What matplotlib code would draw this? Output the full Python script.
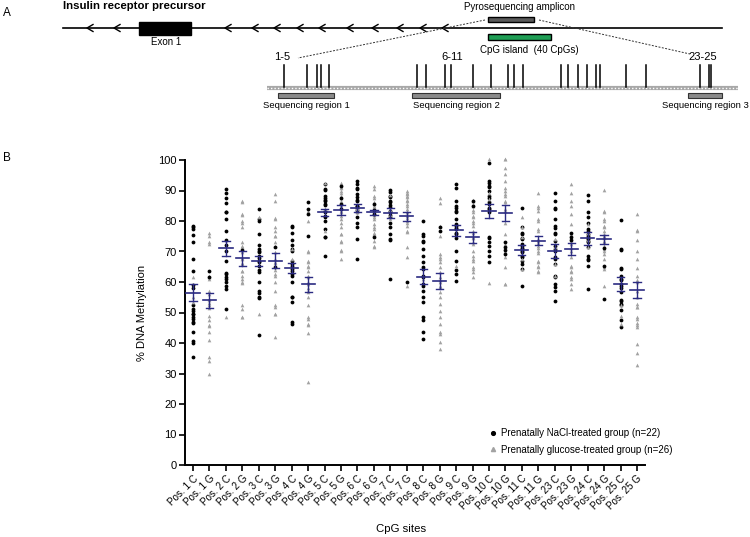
import numpy as np
import matplotlib
matplotlib.use("Agg")
import matplotlib.pyplot as plt
from matplotlib.patches import Rectangle
from matplotlib.lines import Line2D

plt.rcParams["font.family"] = ["Liberation Sans", "DejaVu Sans"]

# ---- panel B data ----
sites = ["Pos. 1 C", "Pos. 1 G", "Pos. 2 C", "Pos. 2 G", "Pos. 3 C", "Pos. 3 G",
         "Pos. 4 C", "Pos. 4 G", "Pos. 5 C", "Pos. 5 G", "Pos. 6 C", "Pos. 6 G",
         "Pos. 7 C", "Pos. 7 G", "Pos. 8 C", "Pos. 8 G", "Pos. 9 C", "Pos. 9 G",
         "Pos. 10 C", "Pos. 10 G", "Pos. 11 C", "Pos. 11 G", "Pos. 23 C", "Pos. 23 G",
         "Pos. 24 C", "Pos. 24 G", "Pos. 25 C", "Pos. 25 G"]

# individual animals per site (C columns: NaCl n=22, G columns: glucose n=26)
pos1_c = [78.5, 78.0, 77.5, 75.5, 73.0, 67.5, 63.5, 59.0, 52.5, 51.0, 50.5, 49.5, 49.5,
          48.5, 48.0, 47.0, 46.5, 43.5, 40.5, 40.0, 35.5, 58.0]
pos1_g = [76, 75, 73, 72.5, 62, 61.5, 61.5, 61, 57, 56, 55, 54.5, 54, 53.5, 53, 52.5,
          51.5, 49, 47.5, 46, 45.5, 43.5, 41, 35.5, 34, 30]
pos2_c = [90.4, 89.3, 87.7, 86.0, 82.8, 82.8, 80.6, 76.8, 73.7, 70.3, 67, 63.7, 62.8,
          62.6, 61.7, 61.5, 61, 59.9, 58.8, 57.7, 51.2, 72]
pos2_g = [86.6, 86.3, 82.2, 81.9, 80.1, 79.5, 77.9, 73, 71.9, 71.6, 69.7, 67.9, 67.5,
          66.1, 65.9, 63.7, 63.5, 61, 59.9, 59.6, 52.3, 51.2, 48.5, 48.5, 48.5, 62]
pos3_c = [83.9, 80.6, 80.1, 75.9, 70.8, 70.5, 69.7, 67.9, 67, 66.4, 65.4, 63.9, 63.2,
          59.9, 57.2, 56.4, 55.2, 54.7, 42.5, 68.5, 72, 70]
pos3_g = [89, 86.6, 81.2, 80.9, 80.6, 77.9, 76.8, 75.2, 75, 73, 71.9, 69.7, 67.5, 66.4,
          66.1, 62.6, 62.1, 57.2, 52.6, 51.7, 49.6, 49.6, 49.6, 41.9, 64, 60]
pos4_c = [78.4, 77.9, 76.2, 73.7, 72.1, 71.4, 70.8, 70.3, 67, 65.4, 64.8, 64.3, 63.7,
          62.6, 62.1, 59.9, 55.2, 55, 53.4, 46.8, 46.3, 66]
pos4_g = [83.3, 80.1, 70.8, 70.3, 69.7, 67.5, 67, 66.4, 65.4, 64.8, 63.5, 61.5, 59.4,
          57.2, 56.6, 55, 52.6, 48.5, 48, 46.3, 45.8, 43.2, 27.2, 60, 62, 58]
pos5_c = [92, 90.4, 90.1, 88.2, 87.7, 86.8, 86.4, 86.1, 85.5, 85.2, 83.3, 82.8, 82.2,
          81.7, 81.4, 77.3, 75.2, 74.8, 74.6, 68.6, 84, 80]
pos5_g = [92.6, 92.3, 92, 91.2, 90.7, 89.9, 89.3, 88.2, 87.7, 86.6, 85, 81.7, 79.5, 78.1,
          76.8, 75.9, 75.7, 73.5, 73, 70.5, 70.1, 67.5, 83.3, 82.8, 84, 80.5]
pos6_c = [93.1, 92, 91.5, 90.7, 90.4, 88.8, 87.9, 87.7, 86.8, 86.6, 85.5, 85, 84.4, 83.9,
          83.6, 83.1, 81.2, 79.5, 77.9, 74.1, 67.5, 84.8]
pos6_g = [91.5, 90.4, 88.2, 87.7, 86.1, 85.5, 85, 84.6, 84.4, 84.2, 83.9, 83.6, 83.3, 83,
          82.8, 82, 81.2, 80.6, 79, 77.9, 77.3, 76.2, 75.7, 73.5, 71.9, 71.6]
pos7_c = [90.1, 89.6, 88.2, 87.9, 86.6, 86.1, 85.5, 85.3, 83.6, 83.3, 83, 82.2, 81.9,
          81.2, 79.2, 77.9, 75.9, 74.8, 74.1, 73.7, 61, 84.5]
pos7_g = [89.9, 89.3, 89, 88.6, 88.2, 87.9, 86.8, 86.4, 85.5, 85, 83.6, 83.1, 82.8, 82,
          81.7, 80.6, 80.1, 78.4, 76.8, 76.5, 71.4, 68.1, 58.8, 84, 81, 79.5]
pos8_c = [80.1, 75.7, 75.2, 73.5, 73, 70.8, 68.6, 66.4, 64.3, 62.1, 61.8, 59.9, 59.4,
          58.8, 57.2, 55.2, 53.4, 48.5, 47.6, 43.6, 41.4, 65]
pos8_g = [87.7, 86, 78.4, 75.2, 69.2, 68.1, 67.5, 66.4, 64.8, 63.2, 61.5, 61, 60.5, 59.9,
          58.8, 58.3, 56.6, 55, 52.8, 50.6, 48.5, 46.3, 43.6, 43, 40.3, 38]
pos9_c = [92, 90.7, 86.6, 85, 84.4, 83.3, 82.8, 79, 78.4, 78.1, 77.7, 77.3, 76.8, 76.2,
          75.7, 70.3, 67, 64, 62.6, 60.3, 80.5, 74.5]
pos9_g = [86.8, 86.4, 85.5, 85, 83.6, 82.8, 81.7, 81.2, 80.1, 79.5, 78.4, 76.8, 76.2,
          74.8, 74.4, 73, 72.4, 70.3, 68.6, 67.5, 67, 65.4, 64.8, 64.3, 63.2, 61.5]
pos10_c = [99.1, 93.1, 92.6, 91.5, 91.2, 89.9, 88.2, 87.7, 86.6, 86.1, 85.5, 85, 84.4,
           83.9, 82.8, 74.6, 74.4, 73, 71.9, 70.3, 68.6, 66.4]
pos10_g = [100.2, 100.2, 100.2, 97.5, 95.3, 93.1, 90.9, 89.9, 89.3, 88.8, 88.2, 87.1,
           86.6, 86.1, 83.9, 83.3, 79.5, 75.7, 72.4, 71.9, 70.3, 68.1, 64.8, 59.6, 59.4, 59.2]
pos11_c = [84.4, 77.9, 76.2, 75.7, 74.4, 74.1, 73, 72.4, 71.9, 71.4, 71.1, 70.8, 70.3,
           69.7, 69.2, 68.6, 68.1, 67, 65.9, 64.3, 58.8, 70.5]
pos11_g = [89.3, 85, 84.4, 83.3, 81.2, 80.6, 80.1, 76.8, 74.6, 74.1, 73.5, 72.7, 71.9,
           71.1, 70.3, 67.5, 67, 66.4, 65.4, 64.8, 64.3, 63.7, 63.2, 78, 77.3, 69.5]
pos23_c = [89.3, 86.6, 84.2, 83.9, 80.6, 78.4, 77.7, 76.2, 75.7, 73.5, 71.9, 70.8, 68.1,
           67.5, 65.9, 62.1, 61.5, 59.4, 58.3, 57.2, 53.9, 70]
pos23_g = [92, 89.3, 86.6, 85, 82.2, 79, 75.9, 74.6, 74.1, 73.7, 73, 71.4, 71.1, 70.3,
           68.1, 65.9, 65.4, 64.8, 63.7, 63.2, 62.1, 61.8, 61, 59.4, 57.7, 72.4]
pos24_c = [88.6, 86.6, 82.8, 81.2, 79.5, 77.3, 76.8, 76.2, 75.2, 74.6, 74.1, 73.7, 73,
           71.4, 68.6, 67.5, 67.2, 65.4, 57.7, 75.7, 74.4, 73.5]
pos24_g = [90.1, 83.3, 82.8, 80.6, 80.1, 79, 78.4, 77.9, 76.8, 76.2, 75.2, 74.6, 73.7,
           73.5, 71.9, 71.4, 70.3, 69.2, 67.5, 64.8, 64.3, 58.8, 74.4, 73, 70.8, 75.7]
pos25_c = [80.3, 71.1, 70.8, 70.5, 65.4, 64.6, 64.3, 61, 60.5, 59.4, 58.8, 58.1, 56.6,
           54.5, 54.1, 53.9, 52.8, 52.3, 50.9, 47.4, 45.2, 62]
pos25_g = [82.2, 77, 76.8, 73.7, 70.3, 67.5, 62.1, 60.5, 59.9, 57.2, 55, 52.8, 52.3, 51.8,
           51.8, 48.9, 48.5, 47.8, 46.5, 46.3, 45.8, 45.3, 39.8, 36.6, 32.9, 64.5]

columns = [pos1_c, pos1_g, pos2_c, pos2_g, pos3_c, pos3_g, pos4_c, pos4_g,
           pos5_c, pos5_g, pos6_c, pos6_g, pos7_c, pos7_g, pos8_c, pos8_g,
           pos9_c, pos9_g, pos10_c, pos10_g, pos11_c, pos11_g, pos23_c, pos23_g,
           pos24_c, pos24_g, pos25_c, pos25_g]

# mean and SEM as drawn in the figure
means = [56.5, 54.0, 71.0, 67.8, 67.0, 67.0, 64.5, 59.2, 82.8, 83.5, 84.2, 82.8,
         82.6, 81.5, 61.8, 60.4, 77.0, 74.6, 83.3, 82.5, 70.5, 73.6, 70.3, 70.7,
         74.3, 74.0, 59.3, 57.4]
sems = [2.8, 2.5, 2.6, 2.5, 1.6, 2.4, 1.6, 2.5, 1.1, 1.6, 1.4, 0.8, 1.5, 1.5,
        2.5, 2.6, 1.8, 1.85, 2.2, 2.6, 1.6, 1.6, 2.3, 2.0, 2.2, 1.5, 2.2, 2.5]

# ---- panel A schematic (layout units = pixels of the figure) ----
chevron_x = [90, 117, 228, 255, 277, 300, 322, 350, 375, 400, 423, 445]
cpg_ticks = [284, 307, 317, 321, 329, 417, 426, 445, 451, 473, 491, 508, 514, 523,
             561, 568, 578, 587, 596, 600, 626, 646, 700, 709, 711]
seq_regions = [(278, 334, "Sequencing region 1"), (412, 500, "Sequencing region 2"),
               (688, 722, "Sequencing region 3")]

fig = plt.figure(figsize=(7.5, 5.37), dpi=100)
ax_a = fig.add_axes([0, 0, 1, 1])
ax_a.set_xlim(0, 750)
ax_a.set_ylim(537, 0)
ax_a.axis("off")

ax_a.text(3, 13, "A", fontsize=8.5, va="center", ha="left")
ax_a.text(63, 6, "Insulin receptor precursor", fontsize=8.2, fontweight="bold",
          va="center", ha="left")
ax_a.plot([63, 722], [28, 28], color="black", lw=1.2)
for cx in chevron_x:
    ax_a.plot([cx + 3, cx - 3, cx + 3], [24.5, 28, 31.5], color="black", lw=1)
ax_a.add_patch(Rectangle((139, 22), 52, 13, facecolor="black", edgecolor="black"))
ax_a.text(166, 42, "Exon 1", fontsize=7, ha="center", va="center")

ax_a.add_patch(Rectangle((488, 17), 46, 5, facecolor="#5a5a5a", edgecolor="black", lw=1))
ax_a.text(520, 7, "Pyrosequencing amplicon", fontsize=7, ha="center", va="center")
ax_a.add_patch(Rectangle((488, 34), 63, 6, facecolor="#1f9e55", edgecolor="black", lw=1))
ax_a.text(529, 50, "CpG island  (40 CpGs)", fontsize=7, ha="center", va="center")

ax_a.plot([485, 298], [20, 58], color="#333333", lw=0.7, ls=(0, (2, 1.5)))
ax_a.plot([539, 690], [20, 54], color="#333333", lw=0.7, ls=(0, (2, 1.5)))

ax_a.plot([267, 738], [88, 88], color="#a8a8a8", lw=3, solid_capstyle="butt")
ax_a.plot([267, 738], [88, 88], color="white", lw=1, ls=(0, (1, 1.5)))
for tx in cpg_ticks:
    ax_a.plot([tx, tx], [65, 87], color="black", lw=1.1)
ax_a.text(282, 62, "1-5", fontsize=8, ha="center", va="bottom")
ax_a.text(452, 62, "6-11", fontsize=8, ha="center", va="bottom")
ax_a.text(703, 62, "23-25", fontsize=8, ha="center", va="bottom")
for x0, x1, lab in seq_regions:
    ax_a.add_patch(Rectangle((x0, 93), x1 - x0, 5, facecolor="#8a8a8a",
                             edgecolor="#333333", lw=0.8))
    ax_a.text((x0 + x1) / 2, 105, lab, fontsize=6.8, ha="center", va="center")

ax_a.text(3, 158, "B", fontsize=8.5, va="center", ha="left")

# ---- panel B ----
ax = fig.add_axes([185 / 750, 1 - 465 / 537, 460 / 750, 305 / 537])
ax.set_xlim(-0.49, 27.49)
ax.set_ylim(0, 100)

px_x = 460 / 27.98
px_y = 305 / 100.0
step = 4.2 / px_x


def swarm(vals, center):
    vals = np.asarray(vals, dtype=float)
    xs = np.full(len(vals), center)
    placed = []
    for i in np.argsort(vals):
        for k in [0, 1, -1, 2, -2, 3, -3]:
            x = center + k * step
            ok = True
            for (qx, qy) in placed:
                d = np.hypot((x - qx) * px_x, (vals[i] - qy) * px_y)
                if d < 3.8:
                    ok = False
                    break
            if ok:
                break
        xs[i] = x
        placed.append((x, vals[i]))
    return xs, vals


navy = "#2b2b82"
for i, vals in enumerate(columns):
    xs, ys = swarm(vals, i)
    if i % 2 == 0:
        ax.scatter(xs, ys, s=7.5, marker="o", color="black", linewidths=0,
                   clip_on=False, zorder=3)
    else:
        ax.scatter(xs, ys, s=7, marker="^", color="#a2a2a2", linewidths=0,
                   clip_on=False, zorder=3)
    m, e = means[i], sems[i]
    ax.plot([i - 0.4, i + 0.4], [m, m], color=navy, lw=1.2, zorder=4)
    ax.plot([i, i], [m - e, m + e], color=navy, lw=1.0, zorder=4)
    ax.plot([i - 0.22, i + 0.22], [m + e, m + e], color=navy, lw=1.0, zorder=4)
    ax.plot([i - 0.22, i + 0.22], [m - e, m - e], color=navy, lw=1.0, zorder=4)

ax.spines["top"].set_visible(False)
ax.spines["right"].set_visible(False)
ax.spines["left"].set_linewidth(1.4)
ax.spines["bottom"].set_linewidth(1.4)
ax.set_yticks(range(0, 101, 10))
ax.set_xticks(range(len(sites)))
ax.set_xticklabels(sites, rotation=45, ha="right", va="top", rotation_mode="anchor",
                   fontsize=7.1)
ax.tick_params(axis="y", direction="out", length=4, width=1.2, labelsize=8, pad=2)
ax.tick_params(axis="x", direction="out", length=4, width=1.2, pad=2)
ax.set_ylabel("% DNA Methylation", fontsize=8, labelpad=8)
ax.set_xlabel("CpG sites", fontsize=8.2)
ax.xaxis.set_label_coords((401 - 185) / 460, (465 - 524) / 305)

handles = [Line2D([], [], marker="o", color="black", ls="none", markersize=2.7),
           Line2D([], [], marker="^", color="#a2a2a2", ls="none", markersize=3)]
ax.legend(handles, ["Prenatally NaCl-treated group (n=22)",
                    "Prenatally glucose-treated group (n=26)"],
          loc="lower left", bbox_to_anchor=(0.64, 0.005), frameon=False,
          fontsize=7, handletextpad=0.3, handlelength=1.0, labelspacing=0.7)

fig.savefig("out.png", dpi=100)
